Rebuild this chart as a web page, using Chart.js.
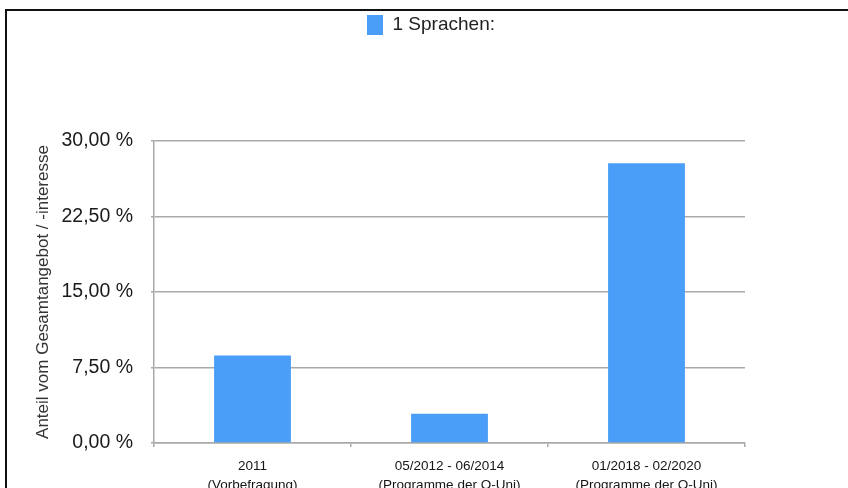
<!DOCTYPE html>
<html lang="de">
<head>
<meta charset="utf-8">
<title>Sprachen</title>
<script src="https://cdn.jsdelivr.net/npm/chart.js@4"></script>
<style>
  html, body { margin: 0; padding: 0; background: #fff; overflow: hidden; }
  #wrap { position: relative; width: 848px; height: 488px; }
  #frame {
    position: absolute; left: 5px; top: 9px; width: 900px; height: 600px;
    border: 2px solid #111; pointer-events: none;
  }
</style>
</head>
<body>
<div id="wrap">
  <canvas id="myChart"></canvas>
  <div id="frame"></div>
</div>
<script>
// Zeitraeume und Anteile
const zeitraeume = [
    ['2011', '(Vorbefragung)'],
    ['05/2012 - 06/2014', '(Programme der O-Uni)'],
    ['01/2018 - 02/2020', '(Programme der O-Uni)']
];
const sprachen = [8.7, 2.9, 27.8];
const serienName = '1 Sprachen:';
const yTicks = [0, 7.5, 15, 22.5, 30];
const yTitel = 'Anteil vom Gesamtangebot / -interesse';

const blau = 'rgb(74,158,248)';
const grau = '#a9a9a9';
const schrift = "'Liberation Sans', Arial, Helvetica, sans-serif";

const formatProzent = (v) => v.toFixed(2).replace('.', ',') + ' %';

const data = {
    labels: zeitraeume,
    datasets: [{
        label: serienName,
        data: sprachen,
        backgroundColor: blau,
        borderWidth: 0,
        barPercentage: 0.39,
        categoryPercentage: 1
    }]
};

const config = {
    type: 'bar',
    data: data,
    options: {
        responsive: true,
        maintainAspectRatio: false,
        animation: false,
        layout: { padding: { top: 9, left: 14, right: 0, bottom: 0 } },
        plugins: {
            legend: {
                position: 'top',
                labels: {
                    boxWidth: 16,
                    boxHeight: 20,
                    padding: 6,
                    color: '#222',
                    font: { family: schrift, size: 19 }
                }
            },
            // leerer Titel als Abstand zwischen Legende und Diagramm
            title: {
                display: true,
                text: '',
                position: 'top',
                weight: 100,
                padding: { top: 0, bottom: 84 },
                font: { size: 10 }
            },
            tooltip: { enabled: false }
        },
        scales: {
            x: {
                offset: true,
                grid: {
                    display: true,
                    drawOnChartArea: false,
                    drawTicks: true,
                    tickLength: 4,
                    offset: true,
                    color: grau,
                    lineWidth: 1.5
                },
                border: { display: true, color: grau, width: 1.5 },
                ticks: {
                    color: '#151515',
                    padding: 9,
                    maxRotation: 0,
                    autoSkip: false,
                    font: { family: schrift, size: 13.5, lineHeight: 1.45 }
                },
                afterFit: (scale) => { scale.height = 45; }
            },
            y: {
                min: 0,
                max: 30,
                afterBuildTicks: (scale) => {
                    scale.ticks = yTicks.map(v => ({ value: v }));
                },
                grid: {
                    color: grau,
                    lineWidth: 1.5,
                    tickLength: 3
                },
                border: { display: true, color: grau, width: 1.5 },
                ticks: {
                    color: '#1a1a1a',
                    padding: 18,
                    font: { family: schrift, size: 19.5 },
                    callback: (v) => formatProzent(v)
                },
                title: {
                    display: true,
                    text: yTitel,
                    color: '#333',
                    padding: { top: 19, bottom: 0 },
                    font: { family: schrift, size: 17 }
                },
                afterFit: (scale) => { scale.width = 140; }
            },
            // leere Achse rechts haelt den Platz frei
            rechts: {
                position: 'right',
                display: true,
                grid: { display: false },
                border: { display: false },
                ticks: { display: false },
                afterFit: (scale) => { scale.width = 103; }
            }
        }
    }
};

const myChart = new Chart(document.getElementById('myChart'), config);
</script>
</body>
</html>
